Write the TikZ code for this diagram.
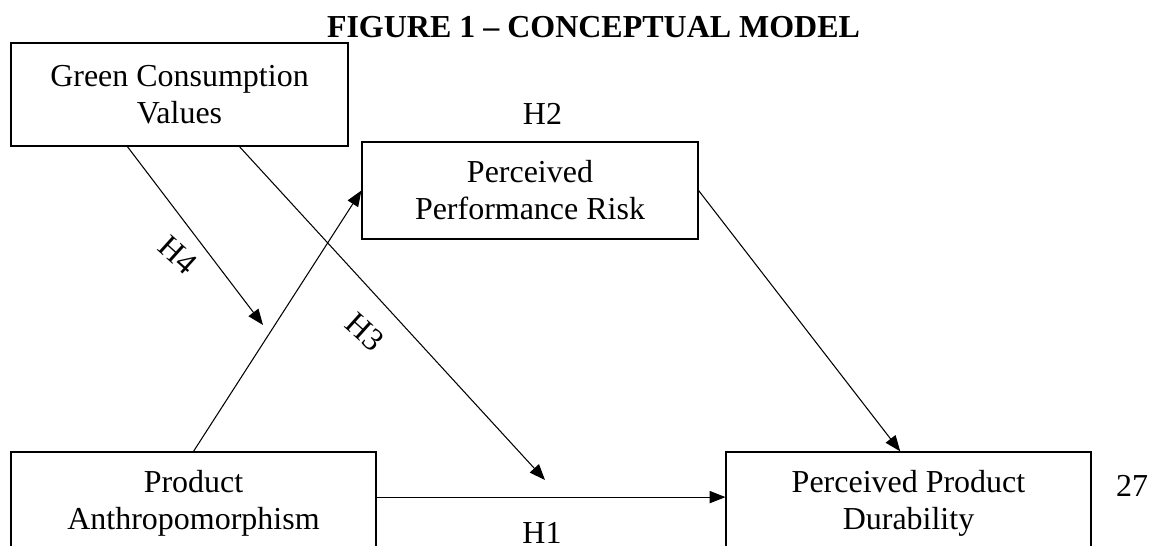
\documentclass[tikz,border=0pt]{standalone}
\usepackage{fontspec}
\setmainfont{Liberation Serif}
\usepackage{tikz}
\usetikzlibrary{arrows.meta,positioning,calc}

\tikzset{
  conbox/.style={draw, line width=0.7pt, align=center, inner sep=0pt,
    font=\fontsize{18.2}{21}\selectfont},
  hyp/.style={font=\fontsize{18.2}{21}\selectfont, inner sep=0pt},
  link/.style={line width=0.6pt, -{Triangle[length=9pt,width=7pt]}}
}

\begin{document}
\begin{tikzpicture}[x=0.02cm,y=-0.02cm]
      \useasboundingbox (0,0) rectangle (1154,546);
      \clip (0,0) rectangle (1154,546);
      % title
      \node[anchor=base, font=\fontsize{18.2}{21}\selectfont\bfseries] (title) at (593.5,38)
        {FIGURE 1 -- CONCEPTUAL MODEL};
      % constructs
      \node[conbox, minimum width=6.74cm, minimum height=2.06cm] (gcv) at (179.5,94.5)
        {Green Consumption\\Values};
      \node[conbox, minimum width=6.72cm, minimum height=1.94cm] (ppr) at (530,190.5)
        {Perceived\\Performance Risk};
      \node[conbox, minimum width=7.3cm, minimum height=2.06cm] (pa) at (193.5,503.5)
        {Product\\Anthropomorphism};
      \node[conbox, minimum width=7.3cm, minimum height=2.06cm] (ppd) at (908.5,503.5)
        {Perceived Product\\Durability};
      % hypotheses
      \node[hyp, anchor=base] (h2) at (542.5,125) {H2};
      \node[hyp, anchor=base] (h1) at (542,544) {H1};
      \node[hyp, rotate=-42] (h4) at (178,255) {H4};
      \node[hyp, rotate=-42] (h3) at (365,332) {H3};
      \node[hyp, anchor=base] (pagenum) at (1132,497) {27};
      % moderation ends
      \coordinate (h4tip) at (263,325);
      \coordinate (h3tip) at (545,480);
      % paths
      \draw[link] (gcv.-135) -- (h4tip);
      \draw[link] (gcv.-41.8) -- (h3tip);
      \draw[link] (pa.north) -- (ppr.west);
      \draw[link] (ppr.east) -- (ppd.99);
      \draw[link] (pa.2) -- (ppd.178);
    \end{tikzpicture}
\end{document}
